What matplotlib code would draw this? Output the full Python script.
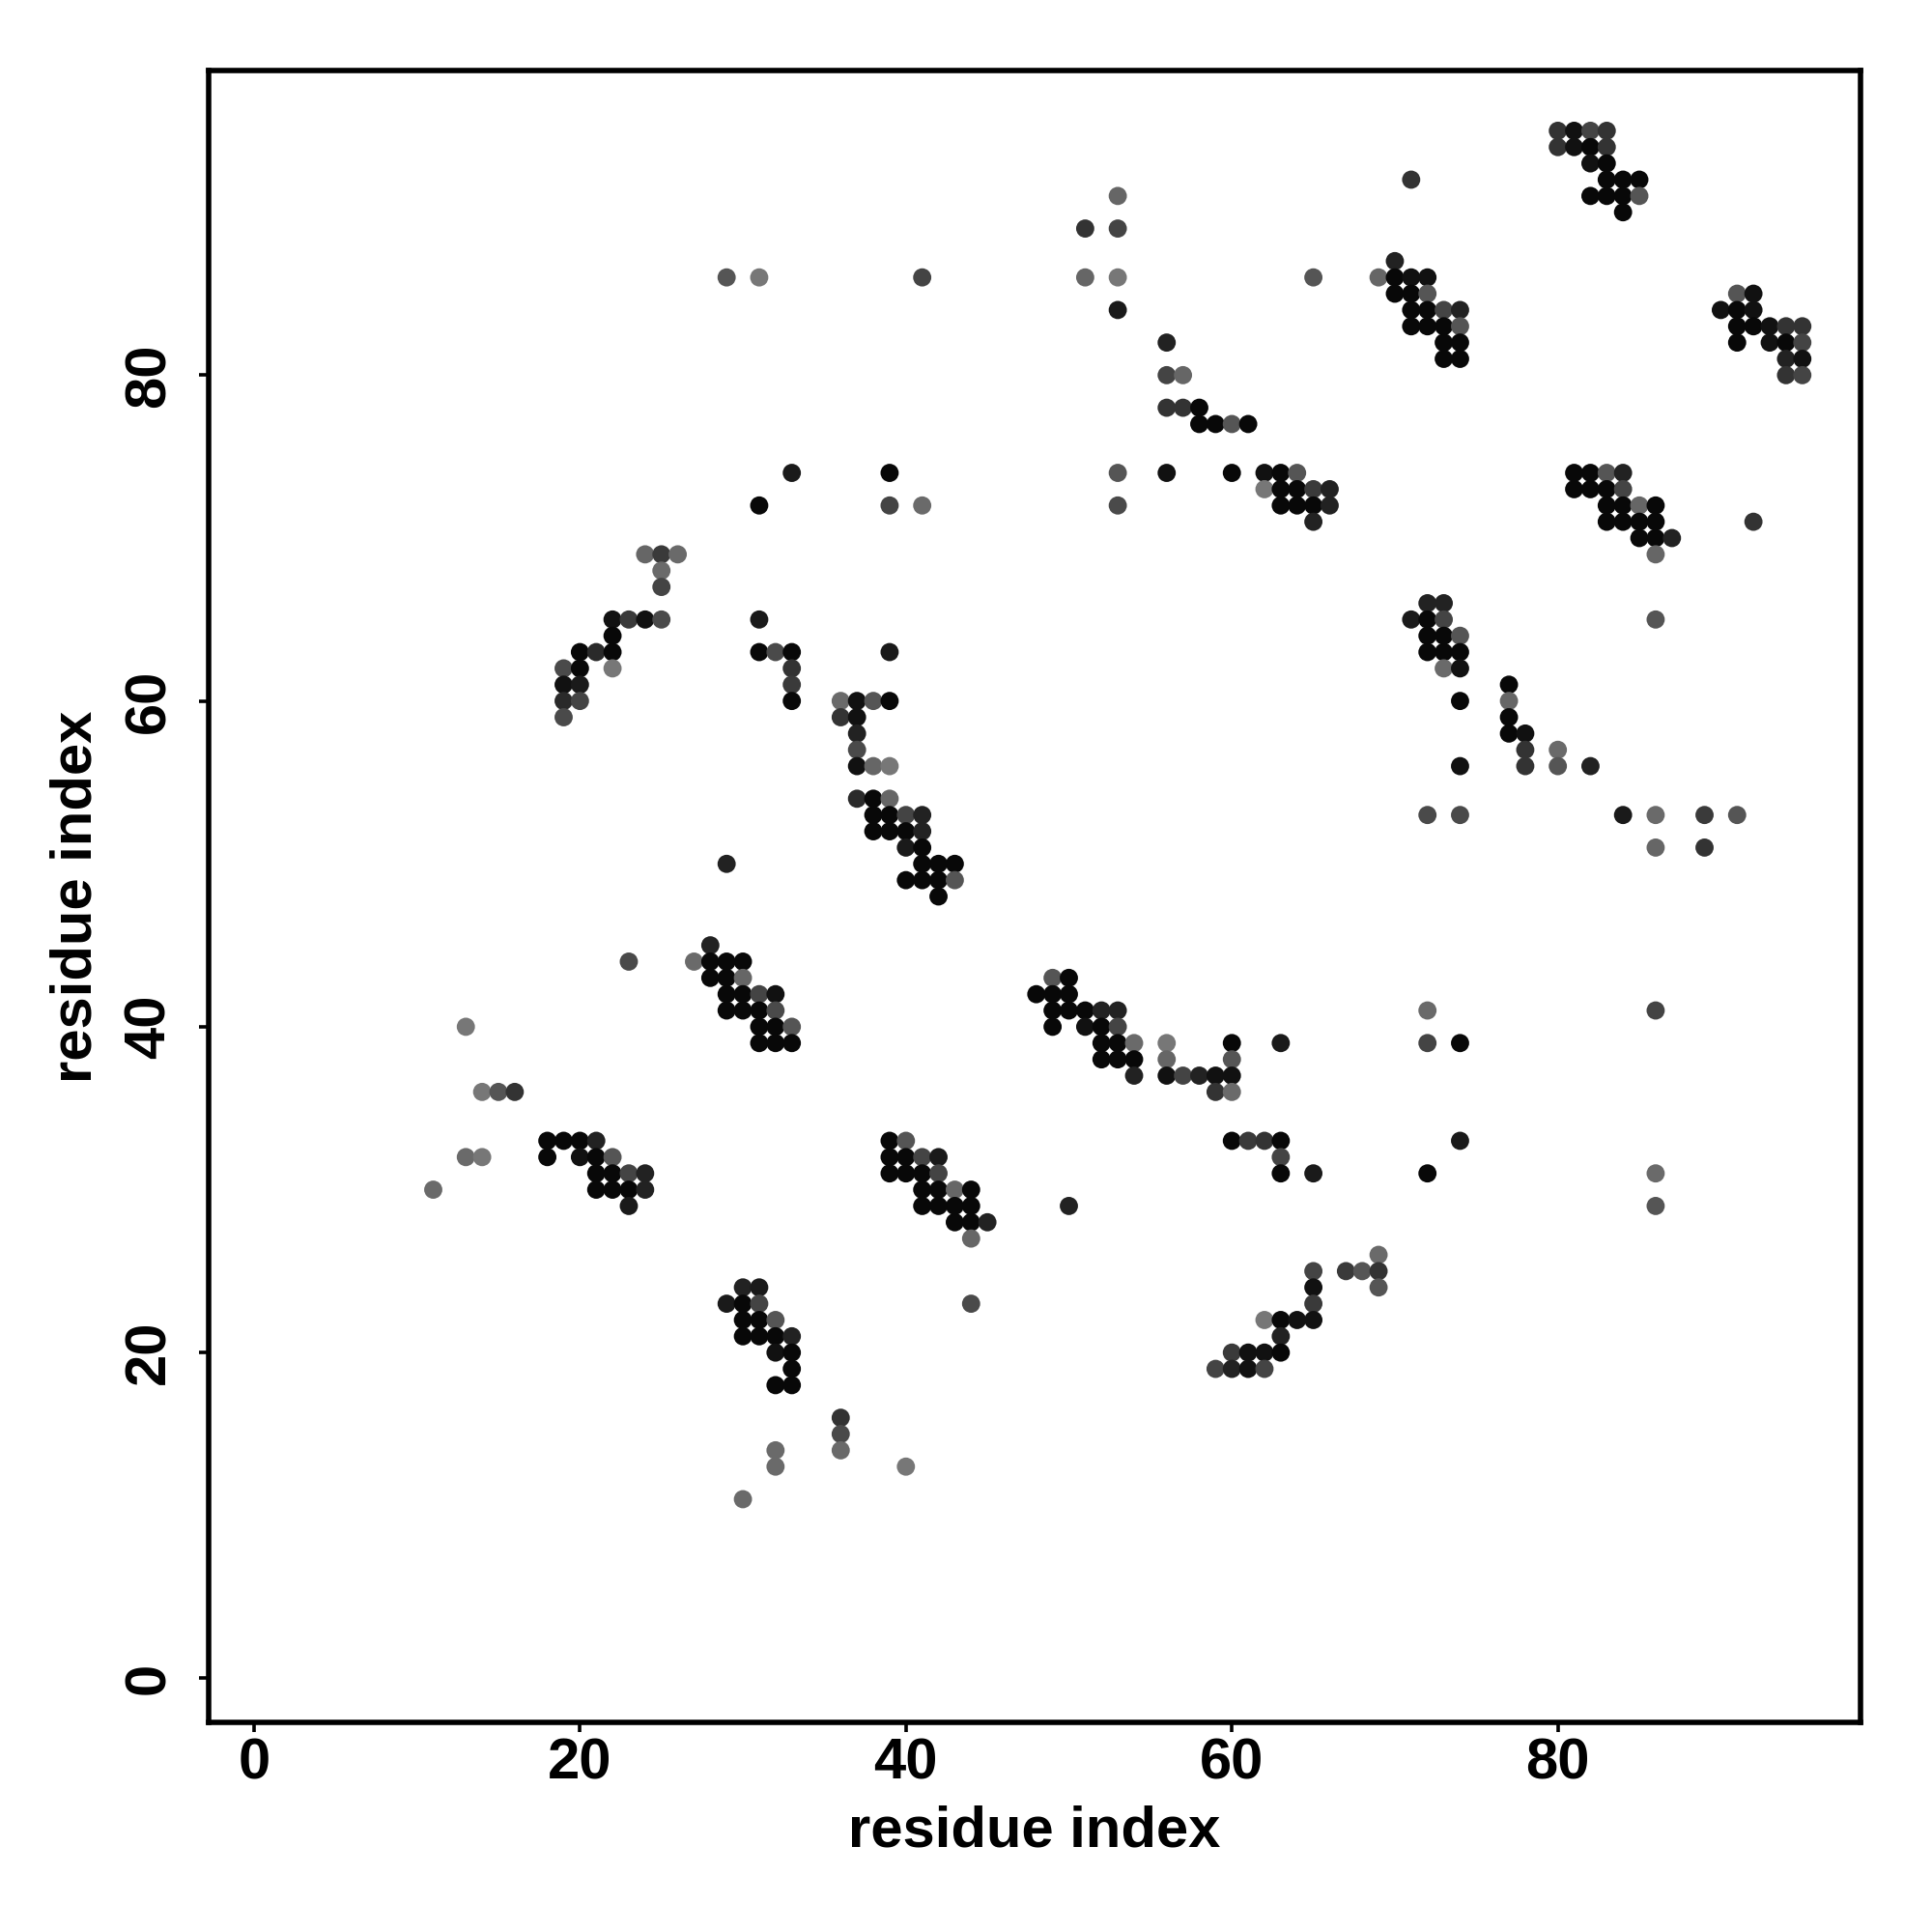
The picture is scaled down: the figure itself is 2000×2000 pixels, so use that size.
import numpy as np
import matplotlib.pyplot as plt

plt.rcParams['font.family'] = ['Liberation Sans', 'DejaVu Sans']
plt.rcParams['font.weight'] = 'bold'

# contact map, one entry per row of the map (y = residue index)
# grey: 0 = black ... 255 = white
row_y = [95, 94, 93, 92, 91, 90, 89, 87, 86, 85, 84, 83, 82, 81, 80, 78, 77,
         74, 73, 72, 71, 70, 69, 68, 67, 66, 65, 64, 63, 62, 61, 60, 59, 58,
         57, 56, 54, 53, 52, 51, 50, 49, 48, 45, 44, 43, 42, 41, 40, 39, 38,
         37, 36, 33, 32, 31, 30, 29, 28, 27, 26, 25, 24, 23, 22, 21, 20, 19,
         18, 16, 15, 14, 13, 11]

row_x = [
    [80, 81, 82, 83],
    [80, 81, 82, 83],
    [82, 83],
    [71, 83, 84, 85],
    [53, 82, 83, 84, 85],
    [84],
    [51, 53],
    [70],
    [29, 31, 41, 51, 53, 65, 69, 70, 71, 72],
    [70, 71, 72, 91, 92],
    [53, 71, 72, 73, 74, 90, 91, 92],
    [71, 72, 73, 74, 91, 92, 93, 94, 95],
    [56, 73, 74, 91, 93, 94, 95],
    [73, 74, 94, 95],
    [56, 57, 94, 95],
    [56, 57, 58],
    [58, 59, 60, 61],
    [33, 39, 53, 56, 60, 62, 63, 64, 81, 82, 83, 84],
    [62, 63, 64, 65, 66, 81, 82, 83, 84],
    [31, 39, 41, 53, 63, 64, 65, 66, 83, 84, 85, 86],
    [65, 83, 84, 85, 86, 92],
    [85, 86, 87],
    [24, 25, 26, 86],
    [25],
    [25],
    [72, 73],
    [22, 23, 24, 25, 31, 71, 72, 73, 86],
    [22, 72, 73, 74],
    [20, 21, 22, 31, 32, 33, 39, 72, 73, 74],
    [19, 20, 22, 33, 73, 74],
    [19, 20, 33, 77],
    [19, 20, 33, 36, 37, 38, 39, 74, 77],
    [19, 36, 37, 77],
    [37, 77, 78],
    [37, 78, 80],
    [37, 38, 39, 74, 78, 80, 82],
    [37, 38, 39],
    [38, 39, 40, 41, 72, 74, 84, 86, 89, 91],
    [38, 39, 40, 41],
    [40, 41, 86, 89],
    [29, 41, 42, 43],
    [40, 41, 42, 43],
    [42],
    [28],
    [23, 27, 28, 29, 30],
    [28, 29, 30, 49, 50],
    [29, 30, 31, 32, 48, 49, 50],
    [29, 30, 31, 32, 49, 50, 51, 52, 53, 72, 86],
    [13, 31, 32, 33, 49, 51, 52, 53],
    [31, 32, 33, 52, 53, 54, 56, 60, 63, 72, 74],
    [52, 53, 54, 56, 60],
    [54, 56, 57, 58, 59, 60],
    [14, 15, 16, 59, 60],
    [18, 19, 20, 21, 39, 40, 60, 61, 62, 63, 74],
    [13, 14, 18, 20, 21, 22, 39, 40, 41, 42, 63],
    [21, 22, 23, 24, 39, 40, 41, 42, 63, 65, 72, 86],
    [11, 21, 22, 23, 24, 41, 42, 43, 44],
    [23, 41, 42, 43, 44, 50, 86],
    [43, 44, 45],
    [44],
    [69],
    [65, 67, 68, 69],
    [30, 31, 65, 69],
    [29, 30, 31, 44, 65],
    [30, 31, 32, 62, 63, 64, 65],
    [30, 31, 32, 33, 63],
    [32, 33, 60, 61, 62, 63],
    [33, 59, 60, 61, 62],
    [32, 33],
    [36],
    [36],
    [32, 36],
    [32, 40],
    [30],
]

row_grey = [
    [51, 17, 68, 51],
    [51, 17, 8, 51],
    [17, 8],
    [51, 8, 8, 8],
    [102, 8, 8, 8, 85],
    [8],
    [51, 68],
    [34],
    [85, 119, 68, 102, 119, 85, 102, 8, 17, 17],
    [8, 8, 85, 85, 17],
    [26, 8, 8, 68, 34, 17, 8, 17],
    [8, 8, 8, 85, 8, 8, 17, 51, 51],
    [34, 8, 8, 8, 17, 8, 68],
    [8, 8, 34, 17],
    [68, 102, 51, 68],
    [51, 51, 8],
    [8, 8, 85, 8],
    [26, 8, 85, 17, 8, 17, 8, 85, 8, 8, 85, 34],
    [119, 8, 8, 58, 34, 8, 8, 8, 68],
    [8, 68, 106, 74, 8, 8, 8, 34, 8, 8, 102, 8],
    [34, 8, 8, 8, 8, 51],
    [8, 8, 34],
    [102, 58, 106, 102],
    [106],
    [68],
    [34, 34],
    [17, 58, 17, 74, 26, 26, 8, 68, 85],
    [8, 8, 8, 85],
    [8, 42, 8, 8, 74, 8, 26, 8, 8, 8],
    [74, 8, 119, 51, 106, 17],
    [17, 26, 58, 8],
    [42, 68, 8, 106, 17, 85, 8, 8, 102],
    [74, 51, 17, 8],
    [34, 8, 17],
    [74, 51, 106],
    [17, 102, 119, 17, 51, 85, 34],
    [42, 8, 102],
    [8, 8, 68, 34, 74, 74, 26, 106, 58, 85],
    [8, 8, 8, 34],
    [26, 8, 102, 51],
    [34, 8, 8, 8],
    [8, 8, 8, 85],
    [8],
    [34],
    [74, 106, 8, 8, 8],
    [8, 8, 102, 85, 8],
    [8, 8, 68, 17, 8, 8, 8],
    [8, 8, 8, 74, 8, 8, 8, 34, 34, 106, 68],
    [119, 8, 8, 85, 8, 17, 8, 68],
    [8, 8, 8, 8, 8, 106, 119, 8, 26, 68, 8],
    [8, 8, 8, 102, 85],
    [34, 17, 68, 34, 17, 17],
    [119, 85, 51, 51, 106],
    [8, 8, 8, 34, 8, 85, 8, 58, 51, 8, 26],
    [106, 119, 8, 17, 8, 85, 8, 8, 68, 26, 68],
    [8, 8, 68, 34, 8, 8, 8, 68, 8, 26, 8, 106],
    [106, 8, 8, 8, 34, 8, 8, 102, 8],
    [26, 8, 8, 8, 8, 34, 85],
    [8, 8, 34],
    [102],
    [106],
    [68, 58, 85, 51],
    [34, 26, 17, 85],
    [26, 8, 68, 74, 58],
    [8, 8, 85, 119, 8, 17, 17],
    [8, 8, 8, 34, 34],
    [17, 8, 58, 17, 17, 8],
    [8, 68, 34, 17, 68],
    [8, 8],
    [51],
    [74],
    [106, 106],
    [106, 119],
    [106],
]

ticks = [0, 20, 40, 60, 80]

xs, ys, gs = [], [], []
for yy, rx, rg in zip(row_y, row_x, row_grey):
    xs += rx
    ys += [yy] * len(rx)
    gs += rg
colors = [(g / 255, g / 255, g / 255) for g in gs]

fig = plt.figure(figsize=(10, 10), dpi=200)
ax = fig.add_axes([0.108, 0.1085, 0.855, 0.855])
ax.scatter(xs, ys, s=46, c=colors, edgecolors='none')

ax.set_xlim(-2.78, 98.57)
ax.set_ylim(-2.7, 98.7)
ax.set_xticks(ticks)
ax.set_yticks(ticks)
for sp in ax.spines.values():
    sp.set_linewidth(2.0)
ax.tick_params(length=3.6, width=1.3, labelsize=21.5)
ax.tick_params(axis='x', pad=2)
ax.tick_params(axis='y', pad=8.5)
plt.setp(ax.get_yticklabels(), rotation=90, va='center')

ax.set_xlabel('residue index', fontsize=21.5, fontweight='bold', labelpad=5.5)
ax.set_ylabel('residue index', fontsize=21.5, fontweight='bold', labelpad=7.5)

fig.savefig('out.png', dpi=200)
